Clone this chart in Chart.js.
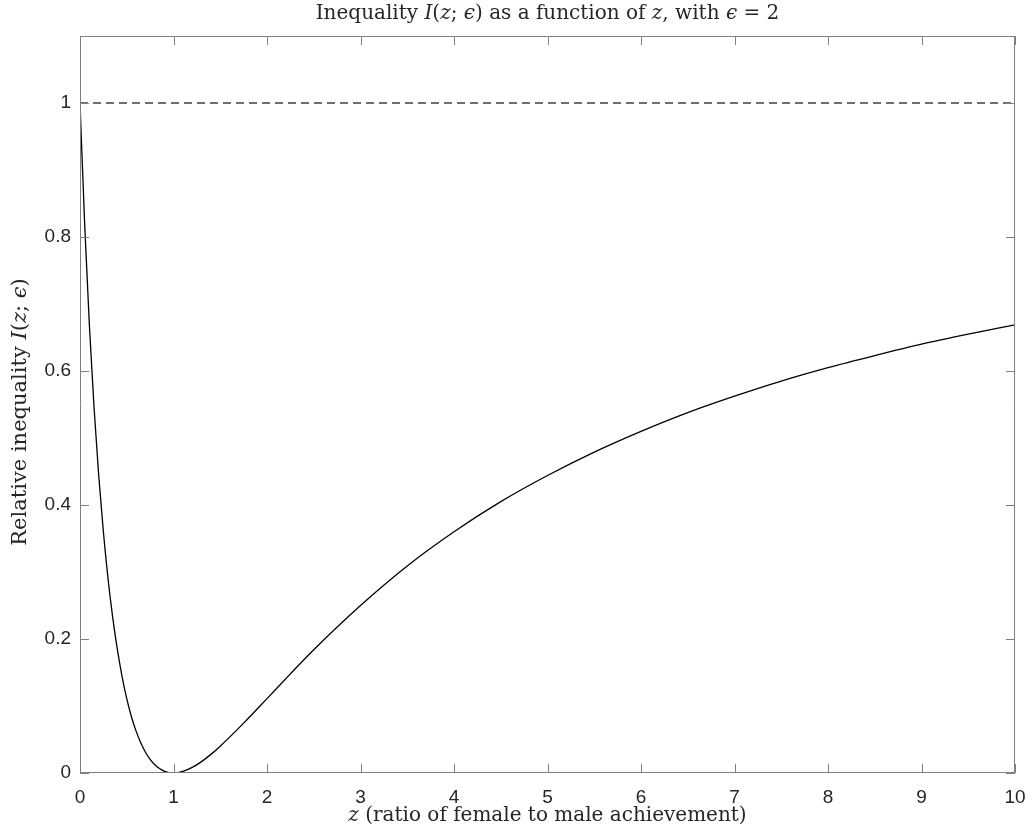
<!DOCTYPE html>
<html>
<head>
<meta charset="utf-8">
<script src="https://cdn.jsdelivr.net/npm/chart.js@4/dist/chart.umd.min.js"></script>
<style>
  html, body { margin: 0; padding: 0; background: #fff; }
  #wrap { width: 1032px; height: 838px; }
</style>
</head>
<body>
<div id="wrap"><canvas id="grafica" width="1032" height="838"></canvas></div>
<script>
// valores
const zValues = [0, 0.05, 0.1, 0.15, 0.2, 0.25, 0.3, 0.35, 0.4, 0.45, 0.5, 0.55, 0.6, 0.65, 0.7, 0.75, 0.8, 0.85, 0.9, 0.95,
  1, 1.1, 1.2, 1.3, 1.4, 1.5, 1.75, 2, 2.25, 2.5, 3, 3.5, 4, 4.5, 5, 5.5, 6, 6.5, 7, 7.5, 8, 8.5, 9, 9.5, 10];
const inequality = [1.0, 0.819, 0.669, 0.546, 0.444, 0.36, 0.290, 0.232, 0.184, 0.144, 0.111, 0.084, 0.0625, 0.045, 0.031, 0.0204, 0.0123, 0.0066, 0.0028, 0.0007,
  0, 0.0023, 0.0083, 0.017, 0.0278, 0.04, 0.0744, 0.111, 0.148, 0.184, 0.25, 0.309, 0.36, 0.405, 0.444, 0.479, 0.510, 0.538, 0.5625, 0.585, 0.605, 0.623, 0.64, 0.655, 0.669];
const refZ = [0, 10];
const refValue = [1, 1];
const xTicks = [0, 1, 2, 3, 4, 5, 6, 7, 8, 9, 10];
const yTicks = [0, 0.2, 0.4, 0.6, 0.8, 1];
const yTickLabels = ['0', '0.2', '0.4', '0.6', '0.8', '1'];

const axisColor = '#7f7f7f';
const textColor = '#262626';
const serif = '"DejaVu Serif", "Liberation Serif", serif';
const sans = '"Liberation Sans", Arial, sans-serif';

// dibuja una linea de texto con partes en cursiva
function mixedText(ctx, parts, x, y, size) {
  let total = 0;
  parts.forEach(p => {
    ctx.font = (p[1] ? 'italic ' : '') + size + 'px ' + serif;
    total += ctx.measureText(p[0]).width;
  });
  let cx = x - total / 2;
  parts.forEach(p => {
    ctx.font = (p[1] ? 'italic ' : '') + size + 'px ' + serif;
    ctx.fillText(p[0], cx, y);
    cx += ctx.measureText(p[0]).width;
  });
}

const marcoPlugin = {
  id: 'marco',
  afterDraw(chart) {
    const c = chart.ctx;
    const a = chart.chartArea;
    const xs = chart.scales.x;
    const ys = chart.scales.y;
    c.save();
    c.strokeStyle = axisColor;
    c.lineWidth = 1;
    c.beginPath();
    c.rect(a.left + 0.5, a.top + 0.5, a.right - a.left - 1, a.bottom - a.top - 1);
    c.stroke();
    const len = 9;
    c.beginPath();
    xTicks.forEach(t => {
      const px = Math.round(xs.getPixelForValue(t)) + 0.5;
      c.moveTo(px, a.bottom); c.lineTo(px, a.bottom - len);
      c.moveTo(px, a.top); c.lineTo(px, a.top + len);
    });
    yTicks.forEach(t => {
      const py = Math.round(ys.getPixelForValue(t)) + 0.5;
      c.moveTo(a.left, py); c.lineTo(a.left + len, py);
      c.moveTo(a.right, py); c.lineTo(a.right - len, py);
    });
    c.stroke();

    c.fillStyle = textColor;
    c.textBaseline = 'middle';
    c.textAlign = 'left';
    const midX = (a.left + a.right) / 2;
    mixedText(c, [['Inequality ', false], ['I', true], ['(', false], ['z', true], ['; ', false], ['\u03f5', true], [') as a function of ', false], ['z', true], [', with ', false], ['\u03f5', true], [' = 2', false]], midX, 14, 20);
    mixedText(c, [['z', true], [' (ratio of female to male achievement)', false]], midX, 816, 20);
    c.translate(21, 412);
    c.rotate(-Math.PI / 2);
    mixedText(c, [['Relative inequality ', false], ['I', true], ['(', false], ['z', true], ['; ', false], ['\u03f5', true], [')', false]], 0, 0, 21);
    c.restore();
  }
};

const ctx = document.getElementById('grafica').getContext('2d');
const chart = new Chart(ctx, {
  type: 'line',
  data: {
    datasets: [
      {
        data: zValues.map((z, i) => ({ x: z, y: inequality[i] })),
        borderColor: '#000',
        borderWidth: 1.3,
        pointRadius: 0,
        cubicInterpolationMode: 'monotone',
        fill: false
      },
      {
        data: refZ.map((z, i) => ({ x: z, y: refValue[i] })),
        borderColor: '#404040',
        borderWidth: 1.3,
        borderDash: [8, 5],
        pointRadius: 0,
        fill: false
      }
    ]
  },
  options: {
    responsive: false,
    animation: false,
    devicePixelRatio: 1,
    layout: { padding: { top: 36, right: 17, left: 0, bottom: 0 } },
    plugins: { legend: { display: false }, tooltip: { enabled: false }, title: { display: false } },
    scales: {
      x: {
        type: 'linear', min: 0, max: 10,
        afterBuildTicks: s => { s.ticks = xTicks.map(v => ({ value: v })); },
        afterFit: s => { s.height = 838 - 773; s.paddingLeft = 0; s.paddingRight = 0; },
        grid: { display: false, drawTicks: false },
        border: { display: false },
        ticks: { padding: 13, color: textColor, font: { family: sans, size: 19 }, maxRotation: 0 }
      },
      y: {
        type: 'linear', min: 0, max: 1.1,
        afterBuildTicks: s => { s.ticks = yTicks.map(v => ({ value: v })); },
        afterFit: s => { s.width = 80; s.paddingTop = 0; s.paddingBottom = 0; },
        grid: { display: false, drawTicks: false },
        border: { display: false },
        ticks: {
          padding: 9, color: textColor, font: { family: sans, size: 19 },
          callback: (v) => yTickLabels[yTicks.indexOf(v)] ?? ''
        }
      }
    }
  },
  plugins: [marcoPlugin]
});
</script>
</body>
</html>
